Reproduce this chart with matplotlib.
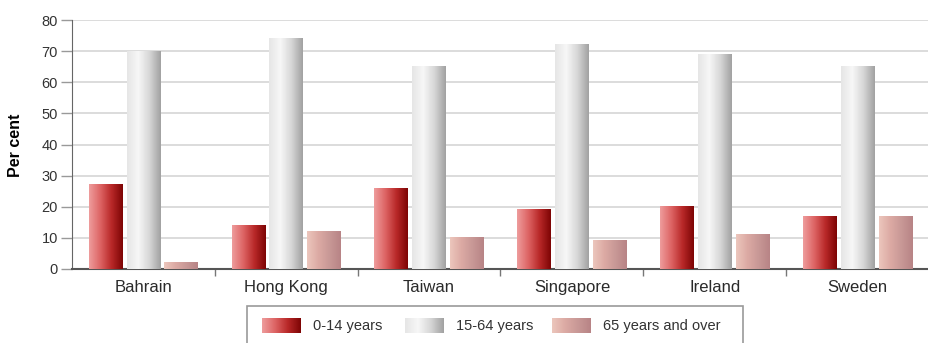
import numpy as np
import matplotlib
matplotlib.use("Agg")
import matplotlib.pyplot as plt
from matplotlib.colors import LinearSegmentedColormap
from matplotlib.patches import Rectangle

plt.rcParams['font.family'] = ['Liberation Sans', 'DejaVu Sans']

# Population by age group, per cent
countries = ["Bahrain", "Hong Kong", "Taiwan", "Singapore", "Ireland", "Sweden"]
age_groups = ["0-14 years", "15-64 years", "65 years and over"]
young = [27, 14, 26, 19, 20, 17]
working = [70, 74, 65, 72, 69, 65]
old = [2, 12, 10, 9, 11, 17]
yticks = [0, 10, 20, 30, 40, 50, 60, 70, 80]

# left-to-right shading for each series
cmaps = [
    LinearSegmentedColormap.from_list("red", ["#ee9c9c", "#dd6464", "#b82828", "#7e0505"]),
    LinearSegmentedColormap.from_list("grey", ["#e6e6e6", "#f7f7f7", "#d6d6d6", "#a2a2a2"]),
    LinearSegmentedColormap.from_list("pink", ["#ecc6bc", "#dcaaa4", "#c89896", "#b88486"]),
]
gradient = np.linspace(0, 1, 64).reshape(1, -1)

fig = plt.figure(figsize=(9.29, 3.43), dpi=100)
ax = fig.add_axes([72 / 929, 1 - 269 / 343, 1 - 72 / 929, 249 / 343])

x = np.arange(len(countries))
width = 0.235
offsets = [-0.265, 0.0, 0.265]

for series, off, cmap in zip([young, working, old], offsets, cmaps):
    bars = ax.bar(x + off, series, width, color="none", edgecolor="none", zorder=3)
    for b in bars:
        x0, y0 = b.get_x(), b.get_y()
        ax.imshow(gradient, cmap=cmap, aspect="auto", zorder=3,
                  extent=(x0, x0 + b.get_width(), y0, y0 + b.get_height()))

ax.set_xlim(-0.5, -0.5 + (929 - 72) / 144.2)
ax.set_ylim(0, 80)
ax.set_yticks(yticks)
ax.grid(axis="y", color="#d9d9d9", linewidth=1.3, zorder=0)
ax.set_axisbelow(True)

ax.set_xticks(x)
ax.set_xticklabels(countries, fontsize=12, color="#2a2a2a")
ax.set_xticks(np.arange(len(countries)) + 0.5, minor=True)
ax.tick_params(axis="x", which="major", length=0, pad=8)
ax.tick_params(axis="x", which="minor", length=5, width=1, color="#777777")
ax.tick_params(axis="y", length=8, width=1, color="#999999", pad=2,
               labelsize=10.5, labelcolor="#333333")

for side in ["top", "right"]:
    ax.spines[side].set_visible(False)
ax.spines["left"].set_color("#666666")
ax.spines["bottom"].set_color("#555555")
ax.spines["bottom"].set_linewidth(1.5)

fig.text(16 / 929, 1 - 145 / 343, "Per cent", rotation=90, fontsize=11.5,
         fontweight="bold", ha="center", va="center")

# legend box below the plot
leg = fig.add_axes([0, 0, 1, 1], zorder=5)
leg.axis("off")
leg.patch.set_alpha(0)
leg.add_patch(Rectangle((247, 306), 496, 40, facecolor="white",
                        edgecolor="#9a9a9a", linewidth=1.2, zorder=1))
key_x = [262, 405, 552]
text_x = [313, 456, 603]
for kx, tx, cmap, label in zip(key_x, text_x, cmaps, age_groups):
    leg.imshow(gradient, cmap=cmap, aspect="auto", zorder=2,
               extent=(kx, kx + 39, 333, 318))
    leg.text(tx, 326, label, fontsize=10.5, color="#333333", va="center", zorder=3)
leg.set_xlim(0, 929)
leg.set_ylim(343, 0)

fig.savefig("out.png", dpi=100)
